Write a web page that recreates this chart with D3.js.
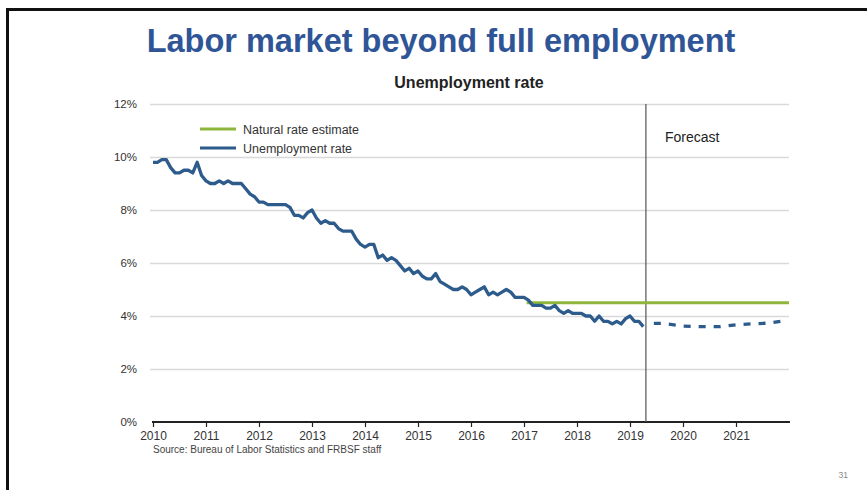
<!DOCTYPE html>
<html>
<head>
<meta charset="utf-8">
<script src="https://cdn.jsdelivr.net/npm/d3@7"></script>
<style>
  html, body { margin: 0; padding: 0; background: #fff; }
  svg { display: block; font-family: "Liberation Sans", Arial, sans-serif; }
</style>
</head>
<body>
<svg id="chart" width="867" height="490"></svg>
<script>
// Monthly unemployment rate (%), Jan 2010 through Apr 2019
const years = [2010, 2011, 2012, 2013, 2014, 2015, 2016, 2017, 2018, 2019];
const monthlyRate = [
  [9.8, 9.8, 9.9, 9.9, 9.6, 9.4, 9.4, 9.5, 9.5, 9.4, 9.8, 9.3],
  [9.1, 9.0, 9.0, 9.1, 9.0, 9.1, 9.0, 9.0, 9.0, 8.8, 8.6, 8.5],
  [8.3, 8.3, 8.2, 8.2, 8.2, 8.2, 8.2, 8.1, 7.8, 7.8, 7.7, 7.9],
  [8.0, 7.7, 7.5, 7.6, 7.5, 7.5, 7.3, 7.2, 7.2, 7.2, 6.9, 6.7],
  [6.6, 6.7, 6.7, 6.2, 6.3, 6.1, 6.2, 6.1, 5.9, 5.7, 5.8, 5.6],
  [5.7, 5.5, 5.4, 5.4, 5.6, 5.3, 5.2, 5.1, 5.0, 5.0, 5.1, 5.0],
  [4.8, 4.9, 5.0, 5.1, 4.8, 4.9, 4.8, 4.9, 5.0, 4.9, 4.7, 4.7],
  [4.7, 4.6, 4.4, 4.4, 4.4, 4.3, 4.3, 4.4, 4.2, 4.1, 4.2, 4.1],
  [4.1, 4.1, 4.0, 4.0, 3.8, 4.0, 3.8, 3.8, 3.7, 3.8, 3.7, 3.9],
  [4.0, 3.8, 3.8, 3.6]
];

// Staff forecast path (decimal year, %)
const forecastYears = [2019.45, 2019.62, 2020.0, 2020.3, 2020.7, 2021.0, 2021.35, 2021.6, 2021.85];
const forecastRate  = [3.72, 3.72, 3.62, 3.6, 3.6, 3.67, 3.71, 3.73, 3.8];

// Natural rate estimate
const naturalYears = [2017.05, 2022];
const naturalRate  = [4.5, 4.5];

const forecastStart = 2019.3;
const xTickYears = [2010, 2011, 2012, 2013, 2014, 2015, 2016, 2017, 2018, 2019, 2020, 2021];
const yTicks = [0, 2, 4, 6, 8, 10, 12];

const BLUE = "#2d5b8c";
const GREEN = "#8fb63c";

const svg = d3.select("#chart");

// slide frame
svg.append("rect")
  .attr("x", 7.5).attr("y", 9.5)
  .attr("width", 900).attr("height", 500)
  .attr("fill", "none").attr("stroke", "#111").attr("stroke-width", 3);

// slide title
svg.append("text")
  .attr("x", 441).attr("y", 52)
  .attr("text-anchor", "middle")
  .attr("font-size", 32.5).attr("font-weight", "bold")
  .attr("fill", "#2f5597")
  .text("Labor market beyond full employment");

const x = d3.scaleLinear().domain([2010, 2022]).range([153, 789]);
const y = d3.scaleLinear().domain([0, 12]).range([422, 104]);

// chart title
svg.append("text")
  .attr("x", 469).attr("y", 88)
  .attr("text-anchor", "middle")
  .attr("font-size", 16).attr("font-weight", "bold")
  .attr("fill", "#222")
  .text("Unemployment rate");

// horizontal gridlines
const gridG = svg.append("g")
  .attr("transform", `translate(150,0)`)
  .call(d3.axisLeft(y).tickValues(yTicks.filter(d => d > 0)).tickSize(-(789 - 150)).tickFormat(""));
gridG.select(".domain").remove();
gridG.selectAll("line").attr("stroke", "#d9d9d9").attr("stroke-width", 1.6);

// y tick labels
svg.append("g").selectAll("text")
  .data(yTicks).join("text")
  .attr("x", 137).attr("y", d => y(d) + 4)
  .attr("text-anchor", "end")
  .attr("font-size", 11.5).attr("fill", "#333")
  .text(d => d + "%");

// x axis
const xAxis = svg.append("g")
  .attr("transform", `translate(0,${y(0)})`)
  .call(d3.axisBottom(x).tickValues(xTickYears).tickSize(5).tickFormat(d3.format("d")));
xAxis.select(".domain").attr("d", `M${x(2010) - 1},0H${x(2022) + 1}`).attr("stroke", "#222").attr("stroke-width", 1.8);
xAxis.selectAll(".tick line").attr("stroke", "#222").attr("stroke-width", 1.2);
xAxis.selectAll(".tick text")
  .attr("font-size", 12).attr("fill", "#333").attr("dy", "0.85em")
  .attr("font-family", "Liberation Sans, Arial, sans-serif");

// forecast divider
svg.append("line")
  .attr("x1", x(forecastStart)).attr("x2", x(forecastStart))
  .attr("y1", y(12)).attr("y2", y(0))
  .attr("stroke", "#555").attr("stroke-width", 1.2);

svg.append("text")
  .attr("x", 665).attr("y", 142)
  .attr("font-size", 14).attr("fill", "#222")
  .text("Forecast");

// series
const line = d3.line().x(d => x(d[0])).y(d => y(d[1]));

const actual = [];
monthlyRate.forEach((vals, i) => vals.forEach((v, m) => actual.push([years[i] + m / 12, v])));

svg.append("path")
  .datum(naturalYears.map((t, i) => [t, naturalRate[i]]))
  .attr("d", line)
  .attr("fill", "none").attr("stroke", GREEN).attr("stroke-width", 3.2);

svg.append("path")
  .datum(actual)
  .attr("d", line)
  .attr("fill", "none").attr("stroke", BLUE).attr("stroke-width", 3.3)
  .attr("stroke-linejoin", "round");

svg.append("path")
  .datum(forecastYears.map((t, i) => [t, forecastRate[i]]))
  .attr("d", line)
  .attr("fill", "none").attr("stroke", BLUE).attr("stroke-width", 3.3)
  .attr("stroke-dasharray", "7,8");

// legend
const legend = [
  { label: "Natural rate estimate", color: GREEN },
  { label: "Unemployment rate", color: BLUE }
];
const lg = svg.append("g");
legend.forEach((d, i) => {
  const ly = 129 + i * 19;
  lg.append("line").attr("x1", 200).attr("x2", 236).attr("y1", ly).attr("y2", ly)
    .attr("stroke", d.color).attr("stroke-width", 3.2);
  lg.append("text").attr("x", 243).attr("y", ly + 4.5)
    .attr("font-size", 12.5).attr("fill", "#333").text(d.label);
});

// source note
svg.append("text")
  .attr("x", 153).attr("y", 453)
  .attr("font-size", 10).attr("fill", "#444")
  .text("Source: Bureau of Labor Statistics and FRBSF staff");

// page number
svg.append("text")
  .attr("x", 848).attr("y", 478)
  .attr("text-anchor", "end")
  .attr("font-size", 8.5).attr("fill", "#888")
  .text("31");
</script>
</body>
</html>
